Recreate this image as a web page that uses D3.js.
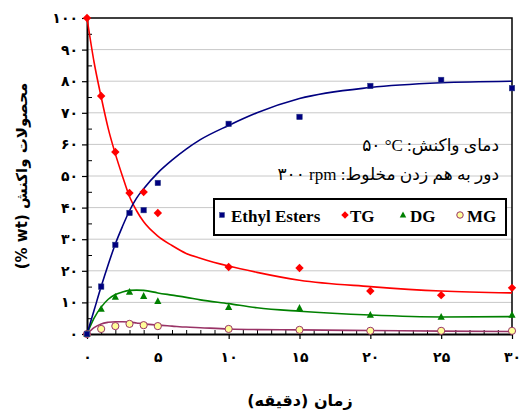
<!DOCTYPE html>
<html>
<head>
<meta charset="utf-8">
<script src="https://cdn.jsdelivr.net/npm/d3@7/dist/d3.min.js"></script>
<style>
  html, body { margin: 0; padding: 0; background: #fff; }
  svg { display: block; }
</style>
</head>
<body>
<div id="chart"></div>
<script>
// ── Canvas
const W = 520, H = 412;
const M = { left: 87, right: 8, top: 18, bottom: 78 };

// ── Measured points (time in minutes, composition in wt%)
const times = [0, 1, 2, 3, 4, 5, 10, 15, 20, 25, 30];
const esters = [0, 15, 28.2, 38.3, 39.2, 47.8, 66.5, 68.7, 78.5, 80.4, 77.8];
const tg = [100, 75.3, 57.6, 44.6, 44.9, 38.3, 21.2, 20.9, 13.6, 12.3, 14.6];
const dg = [0, 7.9, 11.7, 13.3, 12, 10.4, 8.5, 8.2, 6, 5.4, 6];
const mg = [0, 1.6, 2.5, 3.2, 2.8, 2.5, 1.6, 1.3, 1, 1, 1];

// ── Fitted model curves
const fitTimes = [0, 0.5, 1, 1.5, 2, 2.5, 3, 3.5, 4, 5, 6, 7, 8, 10, 12, 15, 20, 25, 30];
const estersFit = [0, 7.5, 15, 22, 28.5, 34, 39, 43, 46, 51, 55, 58.5, 61.5, 66, 70, 74.5, 78, 79.5, 80];
const tgFit = [100, 86, 75, 65, 57, 50, 43.5, 39, 35.5, 31, 28, 25.5, 24, 21.5, 19.5, 17, 15, 13.6, 13];
const dgFit = [0, 5, 8.5, 11, 12.5, 13.3, 13.8, 13.9, 13.8, 13, 12.3, 11.6, 10.8, 9.6, 8.3, 7.2, 6, 5.4, 5.5];
const mgFit = [0, 2, 3.2, 3.7, 3.9, 3.9, 3.8, 3.5, 3.2, 2.8, 2.5, 2.2, 2, 1.6, 1.4, 1.3, 1.1, 0.9, 0.8];

const xTicks = [0, 5, 10, 15, 20, 25, 30];
const yTicks = [0, 10, 20, 30, 40, 50, 60, 70, 80, 90, 100];

const SERIES = [
  { name: 'Ethyl Esters', pts: esters, fit: estersFit, color: '#000080', marker: 'square' },
  { name: 'TG', pts: tg, fit: tgFit, color: '#ff0000', marker: 'diamond' },
  { name: 'DG', pts: dg, fit: dgFit, color: '#008000', marker: 'triangle' },
  { name: 'MG', pts: mg, fit: mgFit, color: '#993366', marker: 'circle' },
];

const FA = 'DejaVu Sans, sans-serif';
const SERIF = 'Liberation Serif, Times New Roman, DejaVu Sans, serif';

// Western digits → Persian digits
const faDigits = n => String(n).replace(/\d/g, d => '۰۱۲۳۴۵۶۷۸۹'[d]);

const svg = d3.select('#chart').append('svg')
  .attr('width', W).attr('height', H);

const x = d3.scaleLinear().domain([0, 30]).range([M.left, W - M.right]);
const y = d3.scaleLinear().domain([0, 100]).range([H - M.bottom, M.top]);

// ── Gridlines
svg.append('g')
  .selectAll('line')
  .data(yTicks.filter(v => v > 0 && v < 100))
  .join('line')
  .attr('x1', x(0)).attr('x2', x(30))
  .attr('y1', d => y(d)).attr('y2', d => y(d))
  .attr('stroke', '#c8c8c8').attr('stroke-width', 1);

// ── Frame top & right
svg.append('path')
  .attr('d', `M${x(0)},${y(100)}H${x(30)}V${y(0)}`)
  .attr('fill', 'none').attr('stroke', '#000').attr('stroke-width', 1.5);

// ── Minor ticks (inside)
svg.append('g')
  .call(d3.axisLeft(y).tickValues(d3.range(5, 100, 10)).tickSize(-5).tickFormat(''))
  .attr('transform', `translate(${x(0)},0)`)
  .call(g => g.select('.domain').remove())
  .selectAll('line').attr('stroke-width', 1);

svg.append('g')
  .call(d3.axisBottom(x).tickValues(d3.range(1, 30).filter(v => v % 5)).tickSize(-4).tickFormat(''))
  .attr('transform', `translate(0,${y(0)})`)
  .call(g => g.select('.domain').remove())
  .selectAll('line').attr('stroke-width', 1);

// ── Major axes
const yAxis = svg.append('g')
  .attr('transform', `translate(${x(0)},0)`)
  .call(d3.axisLeft(y).tickValues(yTicks).tickSize(5).tickSizeOuter(0).tickPadding(4).tickFormat(faDigits));

const xAxis = svg.append('g')
  .attr('transform', `translate(0,${y(0)})`)
  .call(d3.axisBottom(x).tickValues(xTicks).tickSize(5).tickSizeOuter(0).tickPadding(13).tickFormat(faDigits));

[yAxis, xAxis].forEach(a => {
  a.select('.domain').attr('stroke-width', 2);
  a.selectAll('.tick line').attr('stroke-width', 1.2);
  a.selectAll('text')
    .attr('font-family', FA).attr('font-size', '14px').attr('font-weight', 700)
    .attr('fill', '#000');
});

// ── Fitted curves
const line = d3.line()
  .x((d, i) => x(fitTimes[i]))
  .y(d => y(d))
  .curve(d3.curveMonotoneX);

// draw in order so red/blue sit above green/purple like the original
[SERIES[3], SERIES[2], SERIES[1], SERIES[0]].forEach(s => {
  svg.append('path')
    .attr('d', line(s.fit))
    .attr('fill', 'none')
    .attr('stroke', s.color)
    .attr('stroke-width', 1.6);
});

// ── Markers
function drawMarker(g, type, color, cx, cy, scale = 1) {
  if (type === 'square') {
    const s = 5.5 * scale;
    g.append('rect').attr('x', cx - s / 2).attr('y', cy - s / 2)
      .attr('width', s).attr('height', s)
      .attr('fill', color).attr('stroke', '#334488').attr('stroke-width', 0.5);
  } else if (type === 'diamond') {
    const r = 4.2 * scale;
    g.append('path')
      .attr('d', `M${cx},${cy - r}L${cx + r},${cy}L${cx},${cy + r}L${cx - r},${cy}Z`)
      .attr('fill', color);
  } else if (type === 'triangle') {
    const r = 4 * scale;
    g.append('path')
      .attr('d', `M${cx},${cy - r}L${cx + r * 0.9},${cy + r * 0.7}L${cx - r * 0.9},${cy + r * 0.7}Z`)
      .attr('fill', color);
  } else {
    g.append('circle').attr('cx', cx).attr('cy', cy).attr('r', 3.6 * scale)
      .attr('fill', '#ffff99').attr('stroke', color).attr('stroke-width', 1);
  }
}

const mk = svg.append('g');
[SERIES[3], SERIES[2], SERIES[1], SERIES[0]].forEach(s => {
  s.pts.forEach((v, i) => drawMarker(mk, s.marker, s.color, x(times[i]), y(v)));
});

// ── Annotations (reaction conditions)
const note = svg.append('g')
  .attr('font-family', SERIF).attr('font-size', '17px').attr('fill', '#000')
  .attr('text-anchor', 'end').attr('direction', 'ltr');
note.append('text').attr('x', 499).attr('y', 151).text('۵۰ °C :دمای واکنش');
note.append('text').attr('x', 499).attr('y', 180).text('۳۰۰ rpm :دور به هم زدن مخلوط');

// ── Legend
const lg = svg.append('g');
lg.append('rect')
  .attr('x', 214).attr('y', 199).attr('width', 292).attr('height', 36)
  .attr('fill', '#fff').attr('stroke', '#000').attr('stroke-width', 2);

const legendPos = [
  { mx: 222, tx: 231 },
  { mx: 345, tx: 350 },
  { mx: 403, tx: 410 },
  { mx: 460, tx: 467 },
];
SERIES.forEach((s, i) => {
  drawMarker(lg, s.marker, s.color, legendPos[i].mx, 215, 0.9);
  lg.append('text')
    .attr('x', legendPos[i].tx).attr('y', 222)
    .attr('font-family', SERIF).attr('font-size', '17px').attr('font-weight', 700)
    .text(s.name);
});

// ── Axis titles
svg.append('text')
  .attr('transform', `translate(27,176) rotate(-90)`)
  .attr('text-anchor', 'middle').attr('direction', 'ltr')
  .attr('font-family', FA).attr('font-size', '15px').attr('font-weight', 700)
  .text('(% wt) محصولات واکنش');

svg.append('text')
  .attr('x', 300).attr('y', 406)
  .attr('text-anchor', 'middle').attr('direction', 'rtl')
  .attr('font-family', FA).attr('font-size', '16px').attr('font-weight', 700)
  .text('زمان (دقیقه)');
</script>
</body>
</html>
